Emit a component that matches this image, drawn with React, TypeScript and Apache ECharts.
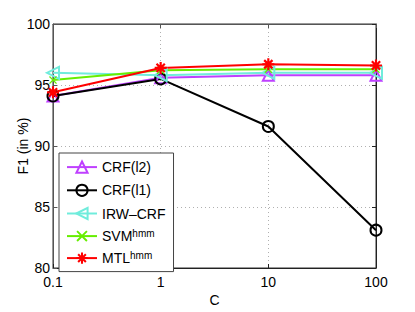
import React, { useEffect, useRef } from "react";
import * as echarts from "echarts";

const cValues = [0.1, 1, 10, 100];
const crfL2 = [94.1, 95.6, 95.8, 95.8];
const crfL1 = [94.1, 95.5, 91.6, 83.1];
const irwCrf = [96.0, 95.8, 96.0, 96.0];
const svmHmm = [95.4, 96.2, 96.3, 96.3];
const mtlHmm = [94.4, 96.4, 96.7, 96.6];
const yTicks = [80, 85, 90, 95, 100];

const FONT = "Liberation Sans, Arial, Helvetica, sans-serif";

const LEFT_TRI = "path://M0,5 L10,0 L10,10 Z";
const XMARK = "path://M0,1.2 L1.2,0 L5,3.8 L8.8,0 L10,1.2 L6.2,5 L10,8.8 L8.8,10 L5,6.2 L1.2,10 L0,8.8 L3.8,5 Z";
const ASTER =
  "path://M4.1,0 L5.9,0 L5.9,10 L4.1,10 Z M0,4.1 L10,4.1 L10,5.9 L0,5.9 Z M0.9,2.2 L2.2,0.9 L9.1,7.8 L7.8,9.1 Z M7.8,0.9 L9.1,2.2 L2.2,9.1 L0.9,7.8 Z";

const pairs = (ys: number[]) => cValues.map((c, i) => [c, ys[i]]);

export default function App() {
  const ref = useRef<HTMLDivElement>(null);
  useEffect(() => {
    if (!ref.current) return;
    const chart = echarts.init(ref.current, null, { renderer: "svg" });
    const mk = (
      name: string,
      data: number[],
      color: string,
      symbol: string,
      size: number,
      hollow: boolean
    ) => ({
      name,
      type: "line",
      data: pairs(data),
      symbol,
      symbolSize: size,
      showAllSymbol: true,
      lineStyle: { color, width: 2 },
      itemStyle: hollow
        ? { color: "none", borderColor: color, borderWidth: 2 }
        : { color, borderWidth: 0 },
      emphasis: { disabled: true },
    });
    chart.setOption({
      animation: false,
      backgroundColor: "#fff",
      textStyle: { fontFamily: FONT },
      grid: { left: 53, top: 24, right: 39, bottom: 40, show: true, borderColor: "#333", borderWidth: 1 },
      legend: {
        orient: "vertical",
        left: 59,
        top: 153,
        padding: [6, 8, 6, 7],
        itemGap: 7,
        itemWidth: 30,
        itemHeight: 14,
        backgroundColor: "#fff",
        borderColor: "#444",
        borderWidth: 1,
        data: ["CRF(l2)", "CRF(l1)", "IRW-CRF", "SVMhmm", "MTLhmm"],
        formatter: (n: string) => {
          if (n === "SVMhmm") return "{b|SVM}{s|hmm}";
          if (n === "MTLhmm") return "{b|MTL}{s|hmm}";
          if (n === "IRW-CRF") return "{b|IRW\u2013CRF}";
          return "{b|" + n + "}";
        },
        textStyle: {
          fontFamily: FONT,
          fontSize: 14,
          color: "#000",
          lineHeight: 15,
          rich: {
            b: { fontFamily: FONT, fontSize: 14, color: "#000", lineHeight: 15 },
            s: { fontFamily: FONT, fontSize: 10, color: "#000", lineHeight: 9, verticalAlign: "top" },
          },
        },
      },
      xAxis: [
        {
          type: "log",
          logBase: 10,
          min: 0.1,
          max: 100,
          name: "C",
          nameLocation: "middle",
          nameGap: 25,
          nameMoveOverlap: false,
          nameTextStyle: { fontFamily: FONT, fontSize: 14, color: "#000" },
          axisLine: { show: true, lineStyle: { color: "#222" } },
          axisTick: { show: true, inside: true, length: 4, lineStyle: { color: "#222" } },
          minorTick: { show: false },
          axisLabel: {
            fontFamily: FONT,
            fontSize: 14,
            color: "#000",
            margin: 7,
            formatter: (v: number) => String(Number(v.toPrecision(3))),
          },
          splitLine: { show: true, lineStyle: { color: "#b0b0b0", type: [1, 3], width: 1 } },
        },
        {
          type: "log",
          logBase: 10,
          min: 0.1,
          max: 100,
          position: "top",
          axisLine: { show: true, lineStyle: { color: "#555" } },
          axisTick: { show: true, inside: true, length: 4, lineStyle: { color: "#555" } },
          axisLabel: { show: false },
          splitLine: { show: false },
        },
      ],
      yAxis: [
        {
          type: "value",
          min: 80,
          max: 100,
          interval: 5,
          name: "F1 (in %)",
          nameLocation: "middle",
          nameGap: 23,
          nameMoveOverlap: false,
          nameTextStyle: { fontFamily: FONT, fontSize: 14, color: "#000" },
          axisLine: { show: true, lineStyle: { color: "#555" } },
          axisTick: { show: true, inside: true, length: 4, lineStyle: { color: "#555" } },
          axisLabel: {
            fontFamily: FONT,
            fontSize: 14,
            color: "#000",
            margin: 3,
            formatter: (v: number) => (yTicks.includes(v) ? String(v) : ""),
          },
          splitLine: { show: true, lineStyle: { color: "#b0b0b0", type: [1, 3], width: 1 } },
        },
        {
          type: "value",
          min: 80,
          max: 100,
          interval: 5,
          position: "right",
          axisLine: { show: true, lineStyle: { color: "#222" } },
          axisTick: { show: true, inside: true, length: 4, lineStyle: { color: "#222" } },
          axisLabel: { show: false },
          splitLine: { show: false },
        },
      ],
      series: [
        mk("CRF(l2)", crfL2, "#BF40FF", "triangle", 11, true),
        mk("CRF(l1)", crfL1, "#000000", "circle", 11, true),
        mk("IRW-CRF", irwCrf, "#70ECDC", LEFT_TRI, 12, true),
        mk("SVMhmm", svmHmm, "#66EE00", XMARK, 8, false),
        mk("MTLhmm", mtlHmm, "#FF0000", ASTER, 12, false),
      ],
    });
    return () => chart.dispose();
  }, []);
  return (
    <div
      ref={ref}
      style={{ position: "absolute", left: 0, top: 0, width: 415, height: 312 }}
    />
  );
}
